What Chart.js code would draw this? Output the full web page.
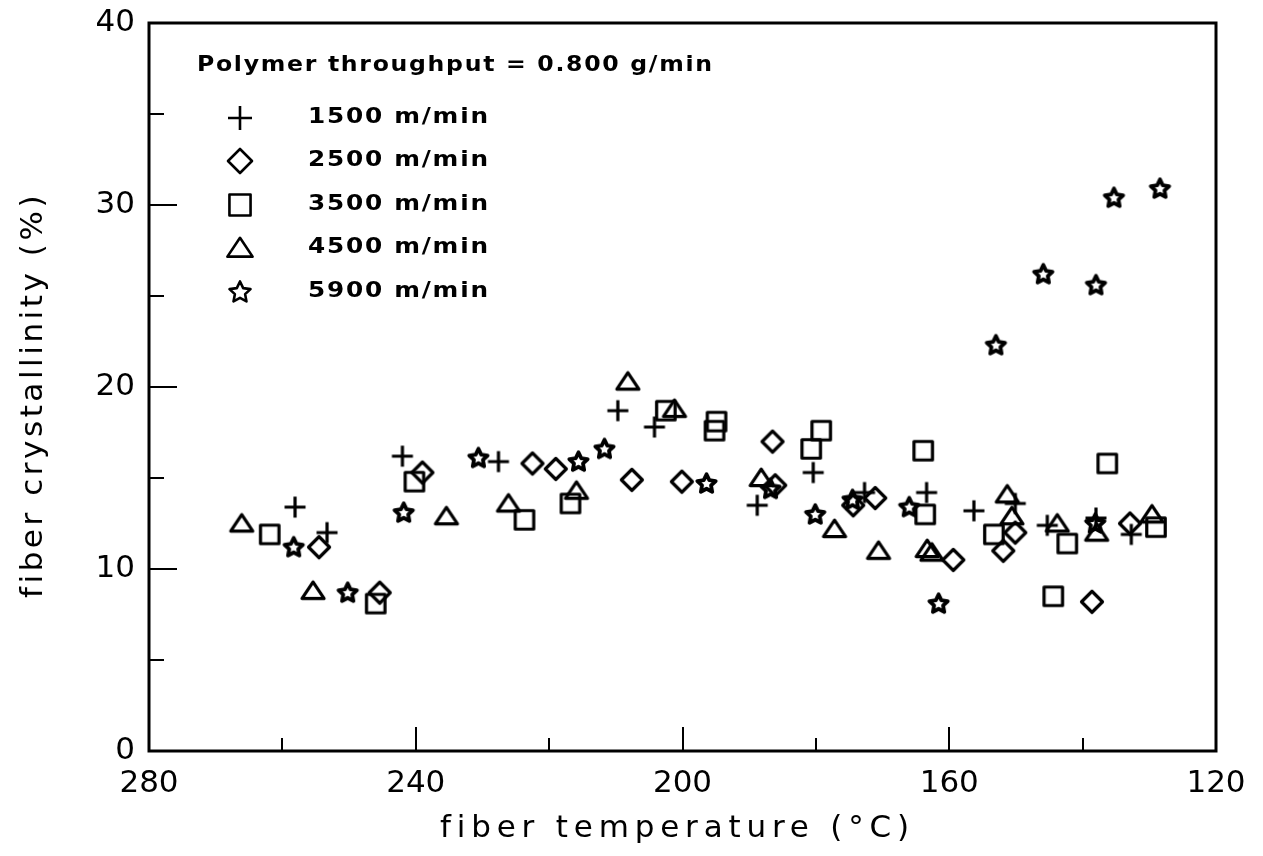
<!DOCTYPE html>
<html><head><meta charset="utf-8">
<script src="https://cdn.jsdelivr.net/npm/chart.js@4/dist/chart.umd.min.js"></script>
<style>html,body{margin:0;padding:0;background:#fff}</style>
</head><body>
<canvas id="c" width="1263" height="856" style="display:block;width:1263px;height:856px"></canvas>
<script>
// ---- data ----
const seriesLabels = ['1500 m/min', '2500 m/min', '3500 m/min', '4500 m/min', '5900 m/min'];
const legendTitle = 'Polymer throughput = 0.800 g/min';
const xTitle = 'fiber temperature (°C)';
const yTitle = 'fiber crystallinity (%)';
const xTicks = [280, 240, 200, 160, 120];
const yTicks = [0, 10, 20, 30, 40];

const temp1500 = [258.1, 253.3, 242.0, 227.6, 209.7, 204.2, 188.8, 180.4, 172.7, 163.4, 156.3, 150.1, 145.3, 138.0, 132.7];
const cryst1500 = [13.4, 12.0, 16.2, 15.9, 18.7, 17.8, 13.5, 15.3, 14.2, 14.2, 13.2, 13.6, 12.4, 12.8, 11.9];

const temp2500 = [254.5, 245.4, 239.0, 222.5, 219.0, 207.6, 200.1, 186.5, 186.1, 174.4, 171.1, 159.4, 151.9, 150.1, 138.6, 132.9];
const cryst2500 = [11.2, 8.7, 15.3, 15.8, 15.5, 14.9, 14.8, 17.0, 14.6, 13.5, 13.9, 10.5, 11.0, 12.0, 8.2, 12.5];

const temp3500 = [261.9, 246.0, 240.2, 223.7, 216.8, 202.5, 194.9, 195.2, 180.7, 179.2, 163.9, 163.6, 153.3, 144.4, 142.3, 136.3, 129.0];
const cryst3500 = [11.9, 8.1, 14.8, 12.7, 13.6, 18.7, 18.1, 17.6, 16.6, 17.6, 16.5, 13.0, 11.9, 8.5, 11.4, 15.8, 12.3];

const temp4500 = [266.1, 255.4, 235.4, 226.1, 215.9, 208.2, 201.2, 188.2, 177.2, 170.6, 163.3, 162.6, 151.3, 150.6, 143.8, 137.9, 129.6];
const cryst4500 = [12.5, 8.8, 12.9, 13.6, 14.3, 20.3, 18.8, 15.0, 12.2, 11.0, 11.1, 10.9, 14.1, 12.9, 12.5, 12.0, 13.0];

const temp5900 = [258.3, 250.2, 241.8, 230.6, 215.6, 211.7, 196.4, 186.8, 180.1, 174.5, 166.0, 161.6, 153.0, 145.9, 138.0, 135.3, 128.4, 138.1];
const cryst5900 = [11.2, 8.7, 13.1, 16.1, 15.9, 16.6, 14.7, 14.4, 13.0, 13.8, 13.4, 8.1, 22.3, 26.2, 25.6, 30.4, 30.9, 12.5];

// ---- marker glyphs ----
function makeMarker(kind, s, lw) {
  const size = Math.ceil(s * 2 + lw * 2 + 4);
  const cv = document.createElement('canvas');
  cv.width = size; cv.height = size;
  const g = cv.getContext('2d');
  const c = size / 2;
  g.strokeStyle = '#000'; g.lineWidth = lw; g.lineJoin = 'round'; g.lineCap = 'butt';
  g.beginPath();
  if (kind === 'cross') {
    g.moveTo(c - s, c); g.lineTo(c + s, c);
    g.moveTo(c, c - s); g.lineTo(c, c + s);
  } else if (kind === 'diamond') {
    g.moveTo(c, c - s); g.lineTo(c + s, c); g.lineTo(c, c + s); g.lineTo(c - s, c); g.closePath();
  } else if (kind === 'square') {
    const h = s * 0.88;
    g.rect(c - h, c - h, 2 * h, 2 * h);
  } else if (kind === 'triangle') {
    const w = s * 1.05, up = s * 0.85, dn = s * 0.72;
    g.moveTo(c, c - up); g.lineTo(c + w, c + dn); g.lineTo(c - w, c + dn); g.closePath();
  } else if (kind === 'star') {
    const R = s * 0.92, r = s * 0.45;
    for (let i = 0; i < 10; i++) {
      const a = -Math.PI / 2 + i * Math.PI / 5;
      const rr = i % 2 === 0 ? R : r;
      const px = c + rr * Math.cos(a), py = c + 0.5 + rr * Math.sin(a);
      if (i === 0) g.moveTo(px, py); else g.lineTo(px, py);
    }
    g.closePath();
  }
  g.stroke();
  return cv;
}
const kinds = ['cross', 'diamond', 'square', 'triangle', 'star'];
const plotMarkers = kinds.map(k => makeMarker(k, 10.5, k === 'star' ? 3.8 : 3.2));
const legendMarkers = kinds.map(k => makeMarker(k, 12, 2.6));

const FONT = "'DejaVu Sans', 'Liberation Sans', sans-serif";

function pts(xs, ys) { return xs.map((x, i) => ({ x: x, y: ys[i] })); }
const dataSets = [
  pts(temp1500, cryst1500), pts(temp2500, cryst2500), pts(temp3500, cryst3500),
  pts(temp4500, cryst4500), pts(temp5900, cryst5900)
];

// inward ticks, frame, axis titles, legend
const decorPlugin = {
  id: 'decor',
  afterDraw(chart) {
    const ctx = chart.ctx;
    const a = chart.chartArea;
    const xs = chart.scales.x, ys = chart.scales.y;
    ctx.save();
    ctx.strokeStyle = '#000';
    ctx.lineWidth = 2;
    ctx.beginPath();
    xs.ticks.forEach(t => {
      const v = t.value;
      if (v <= 120 || v >= 280) return;
      const px = Math.round(xs.getPixelForValue(v));
      const len = (v % 40 === 0) ? 24 : 13;
      ctx.moveTo(px, a.bottom); ctx.lineTo(px, a.bottom - len);
    });
    ys.ticks.forEach(t => {
      const v = t.value;
      if (v <= 0 || v >= 40) return;
      const py = Math.round(ys.getPixelForValue(v));
      const len = (v % 10 === 0) ? 28 : 15;
      ctx.moveTo(a.left, py); ctx.lineTo(a.left + len, py);
    });
    ctx.stroke();
    ctx.lineWidth = 3;
    ctx.strokeRect(a.left, a.top, a.right - a.left, a.bottom - a.top);

    ctx.fillStyle = '#000';
    ctx.textBaseline = 'middle';
    ctx.textAlign = 'left';

    // text with letter spacing fitted to a target width
    function spacedText(txt, x, y, w, font, align) {
      ctx.font = font;
      ctx.letterSpacing = '0px';
      const m = ctx.measureText(txt).width;
      const ls = Math.max(0, (w - m) / txt.length);
      ctx.letterSpacing = ls.toFixed(2) + 'px';
      const x0 = align === 'center' ? x - w / 2 : x;
      ctx.fillText(txt, x0, y);
      ctx.letterSpacing = '0px';
    }
    // text stretched horizontally (wide plotter-like lettering)
    function wideText(txt, x, y, w, font, ls) {
      ctx.font = font;
      ctx.letterSpacing = ls + 'px';
      const m = ctx.measureText(txt).width - ls;
      ctx.save();
      ctx.translate(x, y);
      ctx.scale(w / m, 1);
      ctx.fillText(txt, 0, 0);
      ctx.restore();
      ctx.letterSpacing = '0px';
    }
    // axis titles
    spacedText(xTitle, (a.left + a.right) / 2 - 5, 829, 475, '31px ' + FONT, 'center');
    ctx.save();
    ctx.translate(34, 395);
    ctx.rotate(-Math.PI / 2);
    spacedText(yTitle, 0, 0, 406, '31px ' + FONT, 'center');
    ctx.restore();

    // legend
    wideText(legendTitle, 197, 66, 515, 'bold 21px ' + FONT, 1.5);
    const rowY = [118, 161, 205, 248, 292];
    seriesLabels.forEach((lab, i) => {
      const mk = legendMarkers[i];
      ctx.drawImage(mk, 240 - mk.width / 2, rowY[i] - mk.height / 2);
      wideText(lab, 308, rowY[i], 180, 'bold 21px ' + FONT, 1.5);
    });
    ctx.restore();
  }
};

new Chart(document.getElementById('c'), {
  type: 'scatter',
  data: {
    datasets: dataSets.map((d, i) => ({
      label: seriesLabels[i],
      data: d,
      pointStyle: plotMarkers[i],
      pointRadius: 10,
      pointHoverRadius: 10,
      borderColor: '#000',
      backgroundColor: '#000'
    }))
  },
  options: {
    responsive: false,
    animation: false,
    devicePixelRatio: 1,
    layout: { padding: { top: 23, right: 47, left: 0, bottom: 0 } },
    plugins: { legend: { display: false }, tooltip: { enabled: false } },
    events: [],
    scales: {
      x: {
        type: 'linear', reverse: true, min: 120, max: 280,
        afterBuildTicks(scale) { scale.ticks = [280,260,240,220,200,180,160,140,120].map(v => ({ value: v })); },
        ticks: {
          autoSkip: false, maxRotation: 0, padding: 14, color: '#000',
          font: { family: FONT, size: 31 },
          callback: v => (xTicks.includes(v) ? String(v) : '')
        },
        grid: { display: false, drawTicks: false },
        border: { display: false },
        title: { display: false },
        afterFit(s) { s.height = 105; s.paddingLeft = 0; s.paddingRight = 0; }
      },
      y: {
        min: 0, max: 40,
        afterBuildTicks(scale) { scale.ticks = [0,5,10,15,20,25,30,35,40].map(v => ({ value: v })); },
        ticks: {
          autoSkip: false, padding: 14, color: '#000',
          font: { family: FONT, size: 31 },
          callback: v => (yTicks.includes(v) ? String(v) : '')
        },
        grid: { display: false, drawTicks: false },
        border: { display: false },
        title: { display: false },
        afterFit(s) { s.width = 149; s.paddingTop = 0; s.paddingBottom = 0; }
      }
    }
  },
  plugins: [decorPlugin]
});
</script>
</body></html>
